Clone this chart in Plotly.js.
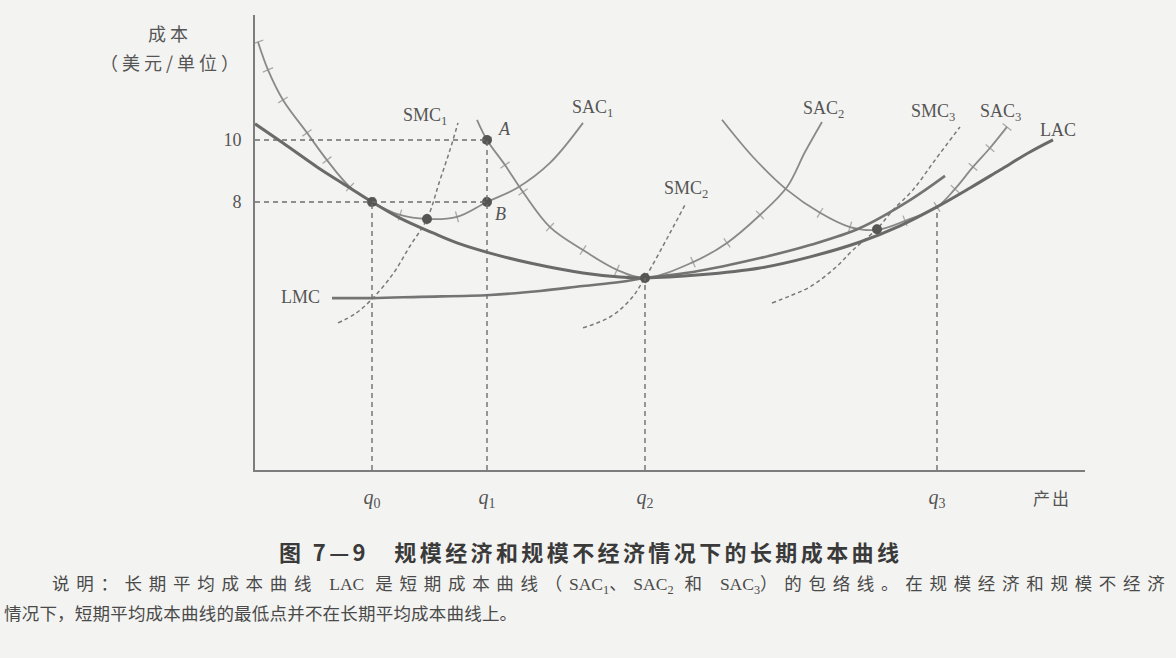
<!DOCTYPE html>
<html><head><meta charset="utf-8">
<script src="https://cdn.plot.ly/plotly-3.0.1.min.js"></script>
<style>html,body{margin:0;padding:0;background:#f3f3f1}</style>
</head><body><div id="chart" style="width:1176px;height:658px"></div>
<script>
// ---- data ----
const qTicks = [11.7, 23.2, 39.0, 68.2];
const qLabels = ['<i>q</i><sub>0</sub>', '<i>q</i><sub>1</sub>', '<i>q</i><sub>2</sub>', '<i>q</i><sub>3</sub>'];
const guideTop = [8.0, 10.0, 5.55, 7.84];
const costTicks = [8, 10];
const costLabels = ['8', '10'];

const lacX = [0, 2.8, 6.2, 9.5, 11.7, 14.5, 17.8, 20.2, 23.5, 27.5, 32.8, 36.5, 39.0, 44.5, 50.5, 55.5, 60.5, 64.5, 68.2, 71.5, 74.5, 77.5, 79.8];
const lacY = [10.52, 9.90, 9.13, 8.45, 8.0, 7.48, 7.0, 6.68, 6.35, 6.03, 5.71, 5.58, 5.55, 5.65, 5.87, 6.23, 6.71, 7.23, 7.84, 8.45, 9.03, 9.61, 10.0];

const lmcX = [7.7, 11.7, 16.5, 23.5, 28.5, 32.8, 36.5, 39.0, 43.8, 50.5, 55.5, 60.5, 65.5, 69.0];
const lmcY = [4.90, 4.90, 4.94, 5.0, 5.13, 5.29, 5.42, 5.55, 5.74, 6.19, 6.61, 7.16, 8.06, 8.84];

const sac1X = [0.3, 1.3, 2.8, 5.2, 7.2, 9.5, 11.7, 14.5, 17.2, 20.2, 23.2, 26.2, 29.5, 32.8];
const sac1Y = [13.16, 12.26, 11.29, 10.23, 9.35, 8.48, 8.0, 7.58, 7.45, 7.52, 8.0, 8.45, 9.26, 10.55];

const sac2X = [22.2, 23.2, 25.0, 26.8, 29.5, 32.8, 36.2, 39.0, 43.8, 47.2, 50.5, 53.2, 55.0, 56.7];
const sac2Y = [10.65, 10.0, 9.19, 8.32, 7.19, 6.45, 5.81, 5.55, 6.06, 6.68, 7.58, 8.48, 9.61, 10.58];

const sac3X = [46.7, 49.8, 53.2, 56.5, 59.5, 62.2, 65.0, 68.2, 70.0, 71.8, 73.5, 75.2];
const sac3Y = [10.65, 9.45, 8.39, 7.65, 7.19, 7.10, 7.39, 7.84, 8.42, 9.13, 9.74, 10.42];

const smc1X = [8.3, 10.0, 11.7, 13.8, 15.5, 17.2, 18.5, 19.5, 20.3];
const smc1Y = [4.10, 4.39, 4.87, 5.68, 6.58, 7.45, 8.71, 9.68, 10.55];

const smc2X = [32.8, 35.5, 37.5, 39.0, 41.5, 43.1];
const smc2Y = [3.94, 4.29, 4.84, 5.55, 7.0, 7.97];

const smc3X = [51.7, 53.5, 55.5, 58.0, 59.8, 62.2, 63.8, 65.8, 68.0, 70.5];
const smc3Y = [4.74, 4.97, 5.26, 5.87, 6.45, 7.13, 7.74, 8.39, 9.35, 10.42];

const dotX = [11.7, 17.2, 23.2, 23.2, 39.0, 62.2];
const dotY = [8.0, 7.45, 10.0, 8.0, 5.55, 7.12];

// ---- layout geometry ----
const W = 1176, H = 658;
const M = {l: 255, r: 91, t: 15, b: 188};
const xRange = [0, 83];
const yRange = [-0.645, 14.03];
const plotW = W - M.l - M.r, plotH = H - M.t - M.b;
const pxX = plotW / (xRange[1] - xRange[0]);
const pxY = plotH / (yRange[1] - yRange[0]);
const P = (px, py) => ({x: (px - M.l) / plotW, y: (H - M.b - py) / plotH});

const curveCol = '#8a8a8a', darkCol = '#6a6a6a', txtCol = '#555';

function hashAngles(xs, ys) {
  return xs.map((_, i) => {
    const a = Math.max(0, i - 1), b = Math.min(xs.length - 1, i + 1);
    const dx = (xs[b] - xs[a]) * pxX, dy = -(ys[b] - ys[a]) * pxY;
    return Math.atan2(dy, dx) * 180 / Math.PI;
  });
}
function hashSizes(n, from, to) {
  return Array.from({length: n}, (_, i) => (i >= from && i <= to) ? 8 : 0);
}
function sacTrace(xs, ys, from, to) {
  return {
    x: xs, y: ys, mode: 'lines+markers', type: 'scatter', hoverinfo: 'skip',
    line: {shape: 'spline', smoothing: 1, color: curveCol, width: 1.8},
    marker: {symbol: 'line-ns-open', size: hashSizes(xs.length, from, to), angle: hashAngles(xs, ys),
             color: curveCol, line: {color: curveCol, width: 1.3}}
  };
}
function smcTrace(xs, ys) {
  return {x: xs, y: ys, mode: 'lines', type: 'scatter', hoverinfo: 'skip',
    line: {shape: 'spline', smoothing: 1, color: '#7a7a7a', width: 1.5, dash: '4px,3px'}};
}

const traces = [
  sacTrace(sac1X, sac1Y, 0, 10),
  sacTrace(sac2X, sac2Y, 1, 10),
  sacTrace(sac3X, sac3Y, 3, 11),
  smcTrace(smc1X, smc1Y), smcTrace(smc2X, smc2Y), smcTrace(smc3X, smc3Y),
  {x: lmcX, y: lmcY, mode: 'lines', type: 'scatter', hoverinfo: 'skip',
   line: {shape: 'spline', smoothing: 1, color: '#747474', width: 2.6}},
  {x: lacX, y: lacY, mode: 'lines', type: 'scatter', hoverinfo: 'skip',
   line: {shape: 'spline', smoothing: 1, color: darkCol, width: 3}},
  {x: dotX, y: dotY, mode: 'markers', type: 'scatter', hoverinfo: 'skip',
   marker: {size: 10, color: '#555'}}
];

const guide = {color: '#6e6e6e', width: 1.4, dash: '5px,4px'};
const shapes = [];
costTicks.forEach(c => shapes.push({type: 'line', xref: 'x', yref: 'y', x0: xRange[0], x1: qTicks[1], y0: c, y1: c, line: guide}));
qTicks.forEach((q, i) => shapes.push({type: 'line', xref: 'x', yref: 'y', x0: q, x1: q, y0: yRange[0], y1: guideTop[i], line: guide}));

const serif = 'Liberation Serif, Times New Roman, serif';
const cjk = 'Noto Sans CJK SC, sans-serif';
const sp = (px, t) => '<span style="letter-spacing:' + px + 'px">' + t + '</span>';
const lab = (x, y, text, extra) => Object.assign({x, y, xref: 'x', yref: 'y', text, showarrow: false,
  font: {family: serif, size: 18, color: txtCol}}, extra || {});
const pap = (px, py, text, font, xanchor) => {
  const p = P(px, py);
  return {x: p.x, y: p.y, xref: 'paper', yref: 'paper', text, showarrow: false, font, xanchor: xanchor || 'center', yanchor: 'middle'};
};

const cs = 6.7;
const captionLine1 =
  sp(cs, '说明：长期平均成本曲线 ') + 'LAC' + sp(cs, ' 是短期成本曲线（') + 'SAC<sub>1</sub>' +
  sp(cs, '、') + 'SAC<sub>2</sub>' + sp(cs, ' 和 ') + 'SAC<sub>3</sub>' +
  sp(cs, '）的包络线。在规模经济和规模不经济');

const annotations = [
  lab(17.0, 10.77, 'SMC<sub>1</sub>'),
  lab(33.7, 11.03, 'SAC<sub>1</sub>'),
  lab(24.9, 10.35, '<i>A</i>'),
  lab(24.5, 7.61, '<i>B</i>'),
  lab(56.8, 10.97, 'SAC<sub>2</sub>'),
  lab(43.1, 8.39, 'SMC<sub>2</sub>'),
  lab(67.8, 10.87, 'SMC<sub>3</sub>'),
  lab(74.5, 10.90, 'SAC<sub>3</sub>'),
  lab(80.3, 10.32, 'LAC'),
  lab(4.5, 4.94, 'LMC'),
  pap(170, 33, sp(4, '成本'), {family: cjk, size: 18, color: txtCol}),
  pap(171, 62, sp(4, '（美元/单位）'), {family: cjk, size: 18, color: txtCol}),
  pap(1052, 497, sp(2, '产出'), {family: cjk, size: 17, color: txtCol}),
  pap(590, 551, '<b>' + sp(3.4, '图 7—9　规模经济和规模不经济情况下的长期成本曲线') + '</b>', {family: cjk, size: 22, color: '#3a3a3a'}),
  pap(50, 585, captionLine1, {family: serif + ', ' + cjk, size: 17.5, color: '#4a4a4a'}, 'left'),
  pap(2, 614, sp(0.2, '情况下，短期平均成本曲线的最低点并不在长期平均成本曲线上。'), {family: serif + ', ' + cjk, size: 17.5, color: '#4a4a4a'}, 'left')
];

const layout = {
  width: W, height: H, margin: M, showlegend: false,
  paper_bgcolor: '#f3f3f1', plot_bgcolor: '#f3f3f1',
  xaxis: {range: xRange, showline: true, linecolor: '#7d7d7d', linewidth: 2, showgrid: false, zeroline: false,
          tickvals: qTicks, ticktext: qLabels, ticks: '', ticklabelstandoff: 8,
          tickfont: {family: serif, size: 20, color: txtCol}, fixedrange: true},
  yaxis: {range: yRange, showline: true, linecolor: '#7d7d7d', linewidth: 2, showgrid: false, zeroline: false,
          tickvals: costTicks, ticktext: costLabels, ticks: '', ticklabelstandoff: 8,
          tickfont: {family: serif, size: 18, color: txtCol}, fixedrange: true},
  shapes, annotations
};

Plotly.newPlot('chart', traces, layout, {staticPlot: true, displayModeBar: false});
</script></body></html>
